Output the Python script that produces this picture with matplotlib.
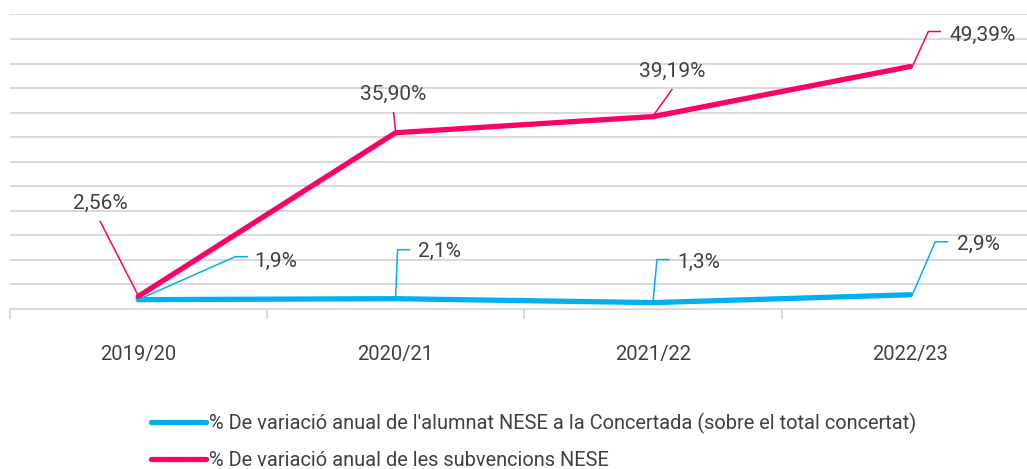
import numpy as np
import matplotlib
matplotlib.use("Agg")
from matplotlib import pyplot as plt
from matplotlib.lines import Line2D

# Data
cursos = ['2019/20', '2020/21', '2021/22', '2022/23']
alumnat = [1.9, 2.1, 1.3, 2.9]
subvencions = [2.56, 35.90, 39.19, 49.39]
etiq_alumnat = ['1,9%', '2,1%', '1,3%', '2,9%']
etiq_subvencions = ['2,56%', '35,90%', '39,19%', '49,39%']
noms = ["% De variació anual de l'alumnat NESE a la Concertada (sobre el total concertat)",
        "% De variació anual de les subvencions NESE"]

blau = '#00B0F0'
rosa = '#FF0066'
gris = '#D9D9D9'
text_col = '#404040'

plt.rcParams['font.family'] = ['Roboto', 'DejaVu Sans']

W, H = 1027, 469
fig = plt.figure(figsize=(W / 100, H / 100), dpi=100)
# plot area in pixels: x 9.5..1039, y 14.4..309
ax = fig.add_axes([9.5 / W, (H - 309) / H, (1039 - 9.5) / W, (309 - 14.4) / H])
ax.set_xlim(-0.5, 3.5)
ax.set_ylim(0, 60)
ax.set_yticks(np.arange(5, 61, 5))
ax.yaxis.grid(True, color=gris, linewidth=1.4)
ax.set_yticklabels([])
ax.tick_params(axis='y', length=0)
for s in ['left', 'right', 'top']:
    ax.spines[s].set_visible(False)
ax.spines['bottom'].set_color(gris)
ax.spines['bottom'].set_linewidth(1.4)

x = np.arange(len(cursos))
ax.set_xticks(x)
ax.set_xticklabels(cursos, fontsize=14.5, color=text_col)
ax.set_xticks(np.arange(-0.5, 4, 1), minor=True)
ax.tick_params(axis='x', which='major', length=0, pad=26)
ax.tick_params(axis='x', which='minor', length=7, width=1.4, color=gris)

ax.plot(x, alumnat, color=blau, linewidth=3.8, solid_capstyle='round', zorder=3)
ax.plot(x, subvencions, color=rosa, linewidth=3.8, solid_capstyle='round', zorder=4)

# label offsets (px, image coords: y down) and leader polylines
off_sub = [(-38, -93), (-2, -38), (19, -45), (72, -31)]
lead_sub = [[(-38, -75), (0, -1)], [(-2, -20), (0, -2)], [(19, -27), (1, -2)],
            [(2, 0), (18, -35), (30, -35)]]
off_alu = [(138, -38), (44, -47), (46, -40), (68, -50)]
lead_alu = [[(0, 0), (97, -43), (109, -43)], [(0, 0), (2, -49), (14, -49)],
            [(0, 0), (4, -43), (16, -43)], [(2, 0), (25, -53), (37, -53)]]

fig.canvas.draw()
def place(vals, labels, offs, leads, color):
    for i, v in enumerate(vals):
        px, py = ax.transData.transform((x[i], v))
        pts = leads[i]
        line = Line2D([px + p[0] for p in pts], [py - p[1] for p in pts],
                      color=color, linewidth=1.1, zorder=2)
        fig.add_artist(line)
        line.set_transform(matplotlib.transforms.IdentityTransform())
        ax.annotate(labels[i], xy=(x[i], v), xytext=(offs[i][0], -offs[i][1]),
                    textcoords='offset pixels', ha='center', va='center',
                    fontsize=15, color=text_col)

place(subvencions, etiq_subvencions, off_sub, lead_sub, rosa)
place(alumnat, etiq_alumnat, off_alu, lead_alu, blau)

# legend
handles = [Line2D([], [], color=blau, linewidth=3.8, solid_capstyle='round'),
           Line2D([], [], color=rosa, linewidth=3.8, solid_capstyle='round')]
fig.legend(handles, noms, loc='upper left', bbox_to_anchor=(133 / W, 1 - 395 / H),
           frameon=False, fontsize=14.4, handlelength=2.75, handletextpad=0.15,
           labelspacing=0.85, labelcolor=text_col)

fig.savefig('out.png', dpi=100)
